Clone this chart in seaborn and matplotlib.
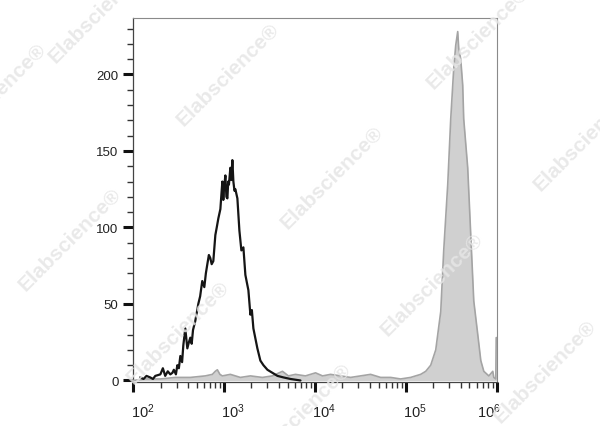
import numpy as np
import pandas as pd
import matplotlib
matplotlib.use('Agg')
import matplotlib.pyplot as plt
import matplotlib.transforms as mtransforms
from matplotlib.ticker import FixedLocator, LogLocator, NullFormatter
import seaborn as sns

# histograma controle (linha preta) - intensidade x contagem
preto_x = [119, 130, 140, 154, 165, 175, 199, 212, 225, 240, 256, 270, 280, 295, 306, 318,
           330, 345, 356, 374, 394, 410, 425, 440, 455, 482, 500, 520, 545, 575, 606, 630,
           654, 680, 705, 730, 761, 801, 830, 865, 910, 935, 957, 980, 1000, 1033, 1060,
           1087, 1110, 1130, 1172, 1200, 1233, 1265, 1300, 1330, 1400, 1473, 1549, 1630,
           1714, 1780, 1850, 1946, 2020, 2100, 2200, 2323, 2506, 2708, 2997, 3404, 3866,
           4500, 5370, 6920]
preto_y = [2, 1, 3, 2, 1, 3, 4, 8, 3, 6, 4, 5, 7, 4, 10, 8,
           16, 12, 23, 34, 21, 25, 28, 24, 33, 39, 44, 50, 55, 65, 61, 70,
           76, 82, 80, 76, 78, 95, 100, 106, 112, 122, 130, 118, 126, 134, 120,
           119, 130, 128, 139, 131, 144, 130, 124, 125, 119, 98, 85, 87,
           69, 64, 59, 43, 46, 34, 28, 21, 13, 10, 7, 5, 3,
           2, 1, 0]

# histograma amostra (cinza preenchido)
cinza_x = [100, 135, 199, 290, 425, 621, 743, 800, 843, 900, 957, 1172, 1510, 1946, 2636,
           3404, 4385, 5100, 6094, 7853, 10140, 12110, 14830, 19110, 24620, 31720, 40910,
           52710, 67920, 87510, 112800, 145400, 165300, 187600, 213000, 241700, 260700,
           288500, 311400, 336000, 353300, 371600, 381100, 400900, 421700, 432500,
           478600, 517100, 558000, 617500, 666900, 719600, 817100, 903300, 926700,
           974700, 985000, 1000000]
cinza_y = [0, 1, 1, 2, 2, 3, 4, 6, 7, 4, 3, 4, 2, 3, 2,
           3, 6, 3, 4, 3, 5, 3, 4, 3, 2, 3, 4,
           2, 2, 1, 2, 4, 6, 10, 20, 45, 85,
           128, 171, 204, 219, 228, 217, 210, 193, 171,
           139, 95, 52, 30, 13, 6, 3, 6, 2,
           1, 28, 28]

df_preto = pd.DataFrame({'FL': preto_x, 'Count': preto_y})
df_cinza = pd.DataFrame({'FL': cinza_x, 'Count': cinza_y})

sns.set_style('ticks')
plt.rcParams['font.family'] = ['Liberation Sans', 'DejaVu Sans']
plt.rcParams['mathtext.fontset'] = 'custom'
plt.rcParams['mathtext.rm'] = 'Liberation Sans'
plt.rcParams['mathtext.it'] = 'Liberation Sans'

fig = plt.figure(figsize=(6, 4.27), dpi=100)
ax = fig.add_axes([0.222, 0.103, 0.606, 0.853])

ax.fill_between(df_cinza['FL'], df_cinza['Count'], color='#d0d0d0', lw=0)
sns.lineplot(data=df_cinza, x='FL', y='Count', ax=ax, color='#a4a4a4', lw=1.2, estimator=None, sort=False)
sns.lineplot(data=df_preto, x='FL', y='Count', ax=ax, color='#151515', lw=1.6, estimator=None, sort=False)

ax.set_xscale('log')
ax.set_xlim(100, 1e6)
ax.set_ylim(-1, 237)
ax.set_xlabel('')
ax.set_ylabel('')

# ticks
ax.yaxis.set_major_locator(FixedLocator([0, 50, 100, 150, 200]))
ax.yaxis.set_minor_locator(FixedLocator(list(range(10, 240, 10))))
ax.xaxis.set_major_locator(FixedLocator([1e2, 1e3, 1e4, 1e5, 1e6]))
ax.xaxis.set_minor_locator(LogLocator(base=10, subs=np.arange(2, 10)))
ax.xaxis.set_minor_formatter(NullFormatter())
ax.set_xticklabels([r'$10^2$', r'$10^3$', r'$10^4$', r'$10^5$', r'$10^6$'])
ax.tick_params(axis='both', which='major', length=7, width=2.2, color='#111111', labelsize=9.5,
               labelcolor='#222222', direction='out')
ax.tick_params(axis='both', which='minor', length=4, width=1.0, color='#333333', direction='out')
ax.tick_params(axis='x', which='major', pad=7, labelsize=10.5)

deslocamentos = [10, 9, 9, 9, -8]
for lab, d in zip(ax.get_xticklabels(), deslocamentos):
    lab.set_transform(lab.get_transform() + mtransforms.ScaledTranslation(d / 100, 0, fig.dpi_scale_trans))

for s in ['top', 'right']:
    ax.spines[s].set_color('#8a8a8a')
    ax.spines[s].set_linewidth(0.8)
for s in ['left', 'bottom']:
    ax.spines[s].set_color('#444444')
    ax.spines[s].set_linewidth(0.9)

# marca d'agua
posicoes = [(100, 12), (228, 75), (478, 38), (-5, 95), (332, 178), (585, 140),
            (70, 240), (178, 333), (432, 285), (545, 372), (300, 415)]
for px, py in posicoes:
    fig.text(px / 600, 1 - py / 427, 'Elabscience®', rotation=45, fontsize=15,
             fontweight='bold', color='#e6e6e6', alpha=0.85, ha='center', va='center', zorder=10)

fig.savefig('out.png', dpi=100)
